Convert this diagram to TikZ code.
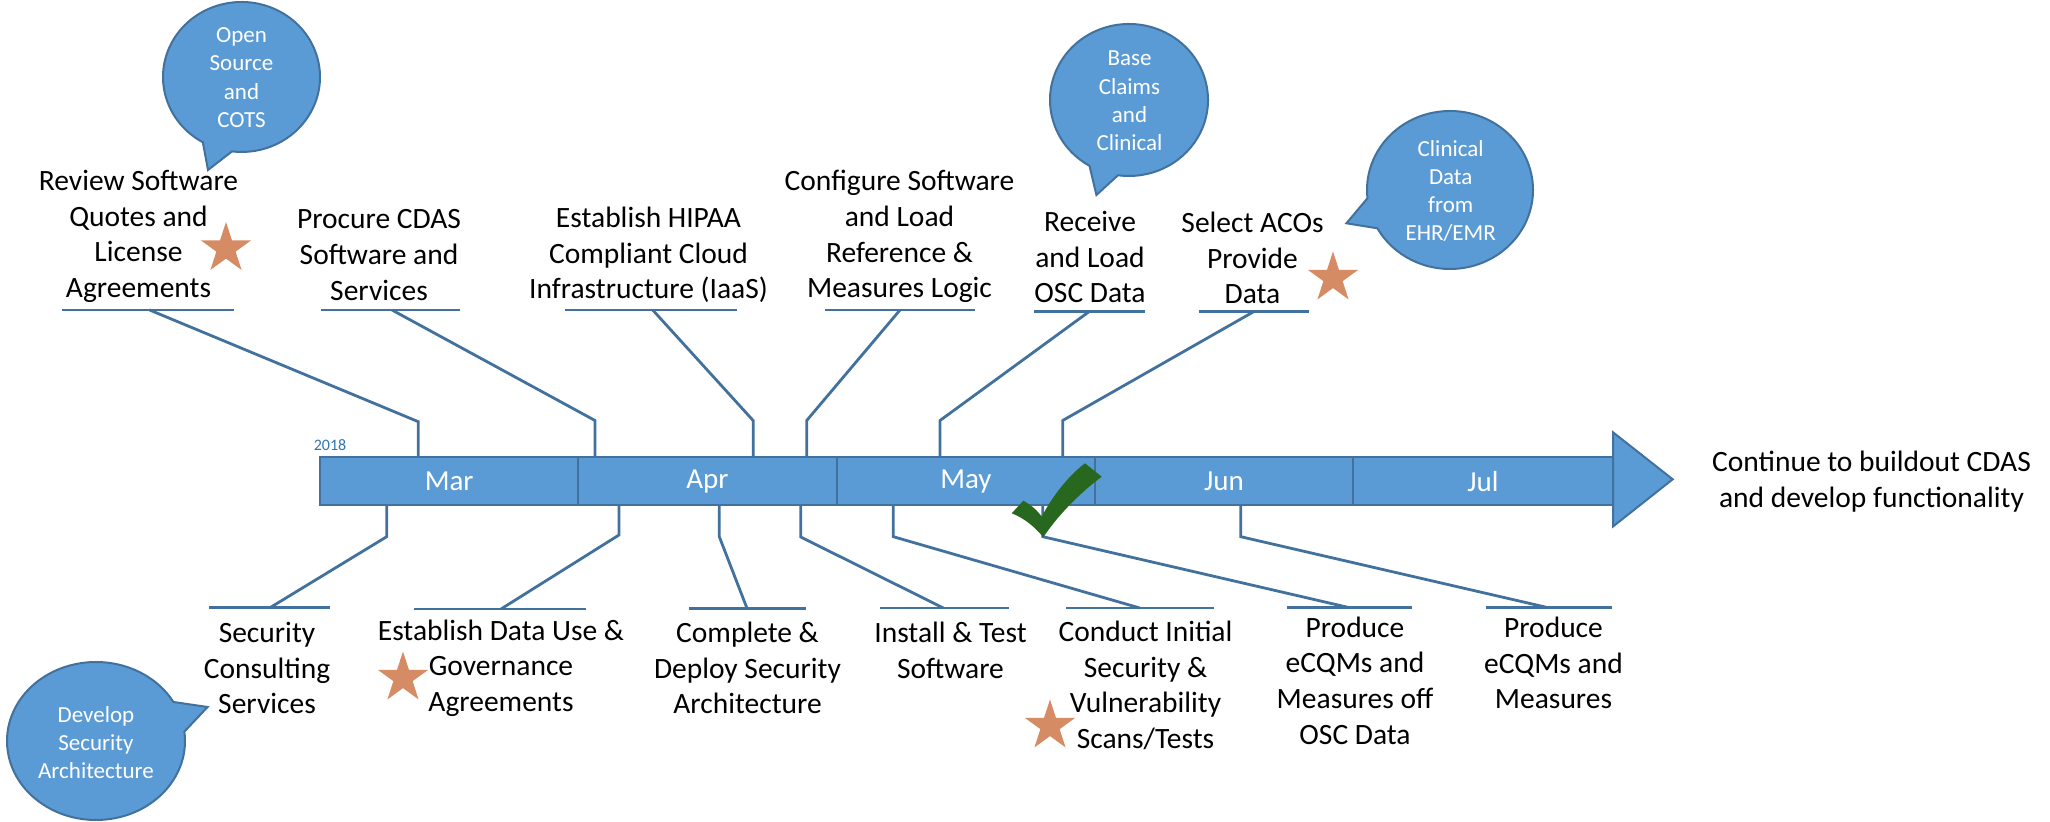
\documentclass[tikz,border=0pt]{standalone}
\usepackage{fontspec}
\setmainfont{Carlito}
\usetikzlibrary{shapes.geometric}
\definecolor{barfill}{RGB}{91,155,213}
\definecolor{barline}{RGB}{65,113,156}
\definecolor{yearblue}{RGB}{46,117,182}
\definecolor{starc}{RGB}{213,139,99}
\definecolor{checkc}{RGB}{40,104,30}
\begin{document}
\begin{tikzpicture}[x=0.5pt,y=-0.5pt,
 lbl/.style={align=center,font=\fontsize{14.75pt}{17.85pt}\selectfont,inner sep=0},
 bubtxt/.style={align=center,text=white,font=\fontsize{11.5pt}{14.15pt}\selectfont,inner sep=0},
 lead/.style={draw=barline,line width=1.4pt},
 month/.style={draw=barline,fill=barfill,line width=1pt,minimum height=24pt,minimum width=129.2pt,inner sep=0,text=white,font=\fontsize{14.5pt}{17pt}\selectfont},
 starshape/.style={star,star points=5,star point ratio=2.618,fill=starc,draw=none,minimum size=26.5pt,inner sep=0},
 bubble/.style={fill=barfill,draw=barline,line width=1pt}]
\useasboundingbox (0,0) rectangle (2050,822);

% timeline bar
\node[month] (mar) at (449.2,481.2) {Mar};
\node[month] (apr) at (707.5,481.2) {Apr};
\node[month] (may) at (965.9,481.2) {May};
\node[month] (jun) at (1223.9,481.2) {Jun};
\node[month,minimum width=130.3pt] (jul) at (1483,481.2) {Jul};
\path[bubble] (1613,432.3) -- (1672.7,479.3) -- (1613,526.5) -- cycle;
\node[text=yearblue,font=\fontsize{8pt}{9pt}\selectfont,inner sep=0] (year) at (330,445) {2018};

% upper underlines and leaders
\coordinate (u1a) at (61.6,310); \coordinate (u1b) at (234,310);
\coordinate (u1m) at (149.6,310); \coordinate (u1k) at (418.3,421.7); \coordinate (u1t) at (418.3,457.3);
\coordinate (u2a) at (320.5,310); \coordinate (u2b) at (460,310);
\coordinate (u2m) at (392,310); \coordinate (u2k) at (595,420.5); \coordinate (u2t) at (595,457.3);
\coordinate (u3a) at (565,310); \coordinate (u3b) at (737,310);
\coordinate (u3m) at (652.7,310); \coordinate (u3k) at (753.3,420.7); \coordinate (u3t) at (753.3,457.3);
\coordinate (u4a) at (825,310); \coordinate (u4b) at (975.4,310);
\coordinate (u4m) at (900,310); \coordinate (u4k) at (806.7,420.5); \coordinate (u4t) at (806.7,457.3);
\coordinate (u5a) at (1034,311.7); \coordinate (u5b) at (1145,311.7);
\coordinate (u5m) at (1089,311.7); \coordinate (u5k) at (940,420.5); \coordinate (u5t) at (940,457.3);
\coordinate (u6a) at (1198.7,311.7); \coordinate (u6b) at (1308.5,311.7);
\coordinate (u6m) at (1253.6,311.7); \coordinate (u6k) at (1062.7,420.5); \coordinate (u6t) at (1062.7,457.3);
\foreach \i in {1,...,6}{
  \draw[lead] (u\i a) -- (u\i b);
  \draw[lead,line join=miter] (u\i m) -- (u\i k) -- (u\i t);
}

% lower underlines and leaders
\coordinate (l1a) at (209,607.7); \coordinate (l1b) at (329.5,607.7);
\coordinate (l1m) at (270,607.7); \coordinate (l1k) at (386.7,536.7); \coordinate (l1t) at (386.7,505);
\coordinate (l2a) at (414,609); \coordinate (l2b) at (586,609);
\coordinate (l2m) at (501,609); \coordinate (l2k) at (619,535); \coordinate (l2t) at (619,505);
\coordinate (l3a) at (689,608.3); \coordinate (l3b) at (806,608.3);
\coordinate (l3m) at (747,608.3); \coordinate (l3k) at (719.3,536.7); \coordinate (l3t) at (719.3,505);
\coordinate (l4a) at (879.5,608); \coordinate (l4b) at (1009.4,608);
\coordinate (l4m) at (943.3,608); \coordinate (l4k) at (800.7,537); \coordinate (l4t) at (800.7,505);
\coordinate (l5a) at (1066,608); \coordinate (l5b) at (1214,608);
\coordinate (l5m) at (1139.7,608); \coordinate (l5k) at (893.3,536.7); \coordinate (l5t) at (893.3,505);
\coordinate (l6a) at (1287,607.7); \coordinate (l6b) at (1412.4,607.7);
\coordinate (l6m) at (1349.5,607.7); \coordinate (l6k) at (1042.8,536.7); \coordinate (l6t) at (1042.8,505);
\coordinate (l7a) at (1485.6,607.3); \coordinate (l7b) at (1612,607.3);
\coordinate (l7m) at (1546.4,607.3); \coordinate (l7k) at (1240.7,536.7); \coordinate (l7t) at (1240.7,505);
\foreach \i in {1,...,7}{
  \draw[lead] (l\i a) -- (l\i b);
  \draw[lead,line join=miter] (l\i m) -- (l\i k) -- (l\i t);
}

% check mark
\fill[checkc] (1011.7,513.3) -- (1023.3,500.7)
  .. controls (1031,505) and (1037,510) .. (1041.7,516.7)
  .. controls (1052,497) and (1068,476) .. (1085,463.3)
  -- (1101.7,476.7)
  .. controls (1080,493) and (1058,515) .. (1043.3,537.3)
  .. controls (1035,527) and (1024,518) .. (1011.7,513.3) -- cycle;

% upper labels
\node[lbl] (t1) at (138.5,236.5) {Review Software\\Quotes and\\License\\Agreements};
\node[lbl] (t2) at (379,255) {Procure CDAS\\Software and\\Services};
\node[lbl] (t3) at (648.5,255) {Establish HIPAA\\Compliant Cloud\\Infrastructure (IaaS)};
\node[lbl] (t4) at (899.5,236.5) {Configure Software\\and Load\\Reference \&\\Measures Logic};
\node[lbl] (t5) at (1090,257) {Receive\\and Load\\OSC Data};
\node[lbl] (t6) at (1252.5,258) {Select ACOs\\Provide\\Data};

% lower labels
\node[lbl] (d1) at (267,668) {Security\\Consulting\\Services};
\node[lbl] (d2) at (501,668) {Establish Data Use \&\\Governance\\Agreements};
\node[lbl] (d3) at (747.5,668) {Complete \&\\Deploy Security\\Architecture};
\node[lbl] (d4) at (950.5,650.5) {Install \& Test\\Software};
\node[lbl] (d5) at (1145.5,685.5) {Conduct Initial\\Security \&\\Vulnerability\\Scans/Tests};
\node[lbl] (d6) at (1355,680.5) {Produce\\eCQMs and\\Measures off\\OSC Data};
\node[lbl] (d7) at (1553.5,663) {Produce\\eCQMs and\\Measures};
\node[lbl] (cont) at (1871.5,481.5) {Continue to buildout CDAS\\and develop functionality};

% stars
\node[starshape] (s1) at (226,248.5) {};
\node[starshape] (s2) at (1333,278) {};
\node[starshape] (s3) at (403,678) {};
\node[starshape] (s4) at (1050,726) {};

% callout bubbles
\path[bubble] (241.5,77) ++(119.5:78.5 and 75) arc[start angle=119.5,end angle=457,x radius=78.5,y radius=75] -- (208,170) -- cycle;
\node[bubtxt] (b1) at (241.5,77.5) {Open\\Source\\and\\COTS};
\path[bubble] (1129,100) ++(120:79 and 76) arc[start angle=120,end angle=458,x radius=79,y radius=76] -- (1096.4,195) -- cycle;
\node[bubtxt] (b2) at (1129.5,101) {Base\\Claims\\and\\Clinical};
\path[bubble] (1450,190) ++(174:83 and 79) arc[start angle=174,end angle=511,x radius=83,y radius=79] -- (1346.4,223.3) -- cycle;
\node[bubtxt] (b3) at (1450.7,191) {Clinical\\Data\\from\\EHR/EMR};
\path[bubble] (96,741) ++(-6.8:89 and 79) arc[start angle=-6.8,end angle=330.4,x radius=89,y radius=79] -- (207.6,707) -- cycle;
\node[bubtxt] (b4) at (96,742.5) {Develop\\Security\\Architecture};
\end{tikzpicture}
\end{document}
